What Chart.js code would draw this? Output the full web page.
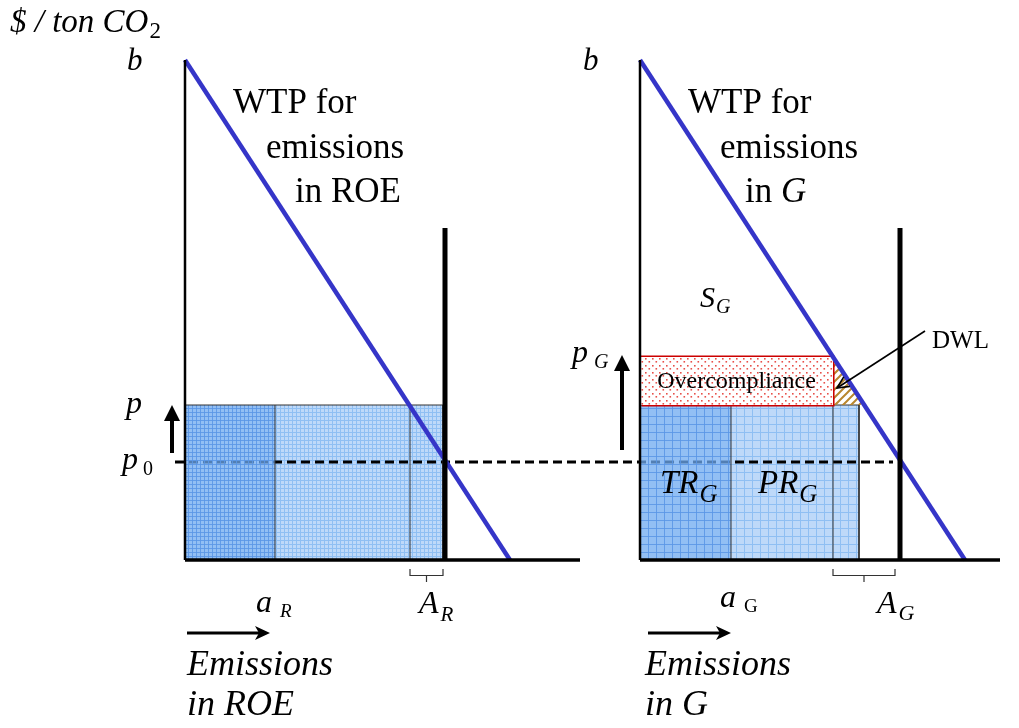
<!DOCTYPE html>
<html>
<head>
<meta charset="utf-8">
<script src="https://cdn.jsdelivr.net/npm/chart.js@4.4.1/dist/chart.umd.min.js"></script>
<style>
  html, body { margin: 0; padding: 0; background: #fff; }
  #diagram { display: block; }
</style>
</head>
<body>
<canvas id="diagram" width="1019" height="728"></canvas>
<script>
// diagram units: price 0..b on y, emissions on x (each panel starts at 0)
const panels = ['ROE', 'G'];
const b = 100;                 // WTP at zero emissions
const p = 31;                  // permit price
const p0 = 19.6;               // initial price
const pG = 40.6;               // price paid in G
const wtpIntercept = [65, 65]; // emissions where WTP hits zero
const cap = [52, 52];          // A_R, A_G
const capTop = [66.4, 66.4];
const tradedRights = [18, 18.2];     // TR block width
const boxRight = [51.6, 43.8];       // right edge of the permit box
const innerLine = [45, 38.6];        // a_R / a_G boundary
const axisEnd = [79, 72];
const braceLeft = [45, 38.6];
const braceRight = [51.6, 51];

const PANEL_OFFSET = [0, 91];

document.addEventListener('DOMContentLoaded', () => {
  const canvas = document.getElementById('diagram');

  const makePattern = (size, draw) => {
    const c = document.createElement('canvas');
    c.width = c.height = size;
    const g = c.getContext('2d');
    draw(g, size);
    return g.createPattern(c, 'repeat');
  };
  const gridPattern = (size, bg, line) => makePattern(size, (g, s) => {
    g.fillStyle = bg; g.fillRect(0, 0, s, s);
    g.fillStyle = line; g.fillRect(0, 0, s, 1); g.fillRect(0, 0, 1, s);
  });
  const lightGrid = [gridPattern(4, '#bed9f9', '#8fbff3'), gridPattern(8, '#bed9f9', '#8fbff3')];
  const darkGrid = [gridPattern(4, 'rgba(110,170,240,0.75)', 'rgba(90,150,230,0.85)'),
                    gridPattern(8, 'rgba(110,170,240,0.75)', 'rgba(90,150,230,0.85)')];
  const dots = makePattern(7, (g) => {
    g.fillStyle = '#fff'; g.fillRect(0, 0, 7, 7);
    g.fillStyle = '#e8504a';
    g.fillRect(1, 1, 1.6, 1.6); g.fillRect(4.5, 4, 1.6, 1.6);
  });
  const hatch = makePattern(8, (g) => {
    g.strokeStyle = '#b8862e'; g.lineWidth = 2;
    g.beginPath();
    g.moveTo(-1, 9); g.lineTo(9, -1);
    g.moveTo(-1, 1); g.lineTo(1, -1);
    g.moveTo(7, 9); g.lineTo(9, 7);
    g.stroke();
  });

  const seg = (points, color, width, order, extra = {}) => ({
    data: points.map(([x, y]) => ({ x, y })),
    borderColor: color,
    borderWidth: width,
    order,
    pointRadius: 0,
    tension: 0,
    fill: false,
    ...extra
  });

  const wtpAt = (i, price) => wtpIntercept[i] * (1 - price / b);

  const datasets = [];
  panels.forEach((name, i) => {
    const o = PANEL_OFFSET[i];
    // permit box
    datasets.push(seg([[o + tradedRights[i], p], [o + boxRight[i], p]], 'rgba(0,0,0,0)', 0, 10,
      { fill: 'origin', backgroundColor: lightGrid[i] }));
    datasets.push(seg([[o, p], [o + tradedRights[i], p]], 'rgba(0,0,0,0)', 0, 8,
      { fill: 'origin', backgroundColor: darkGrid[i] }));
    datasets.push(seg([[o, 0], [o, p], [o + boxRight[i], p], [o + boxRight[i], 0]], '#333', 1, 7));
    datasets.push(seg([[o + tradedRights[i], 0], [o + tradedRights[i], p]], '#333', 1, 7));
    datasets.push(seg([[o + innerLine[i], 0], [o + innerLine[i], p]], '#333', 1, 7));
    // WTP line
    datasets.push(seg([[o, b], [o + wtpIntercept[i], 0]], '#3535c8', 4.5, 5));
    // axes
    datasets.push(seg([[o, b], [o, 0]], '#000', 2.5, 4));
    datasets.push(seg([[o, 0], [o + axisEnd[i], 0]], '#000', 3.5, 4));
    // cap
    datasets.push(seg([[o + cap[i], 0], [o + cap[i], capTop[i]]], '#000', 5, 4));
    // brace under A
    const x0 = o + braceLeft[i], x1 = o + braceRight[i], xm = (x0 + x1) / 2;
    datasets.push(seg([[x0, -1.8], [x0, -3.1], [xm, -3.1], [xm, -4.4], [xm, -3.1], [x1, -3.1], [x1, -1.8]],
      '#333', 1.2, 3));
  });

  // p0 dashed line across both panels
  datasets.push(seg([[-2, p0], [PANEL_OFFSET[1] + 50.6, p0]], '#000', 3, 9, { borderDash: [9, 5] }));

  // overcompliance and DWL in G
  const oG = PANEL_OFFSET[1];
  const overRight = wtpAt(1, pG);
  datasets.push(seg([[oG, pG], [oG + overRight, pG]], 'rgba(0,0,0,0)', 0, 6,
    { fill: { value: p }, backgroundColor: dots }));
  datasets.push(seg([[oG + 0.3, p], [oG + 0.3, pG], [oG + overRight, pG], [oG + overRight, p], [oG + 0.3, p]],
    '#cc0000', 3, 6));
  datasets.push(seg([[oG + overRight, pG], [oG + wtpAt(1, p), p]], 'rgba(0,0,0,0)', 0, 6.5,
    { fill: { value: p }, backgroundColor: hatch }));

  const labelsPlugin = {
    id: 'labels',
    afterDatasetsDraw(chart) {
      const { ctx, scales: { x, y } } = chart;
      const X = (v) => x.getPixelForValue(v);
      const Y = (v) => y.getPixelForValue(v);

      const put = (text, px, py, size, italic, align = 'left') => {
        ctx.font = `${italic ? 'italic ' : ''}${size}px "Liberation Serif"`;
        ctx.textAlign = align;
        ctx.textBaseline = 'alphabetic';
        ctx.fillStyle = '#000';
        ctx.fillText(text, px, py);
        return ctx.measureText(text).width;
      };
      const withSub = (main, sub, vx, vy, size, subSize, gap, drop, subItalic = true) => {
        const w = put(main, X(vx), Y(vy), size, true);
        put(sub, X(vx) + w + gap, Y(vy) + drop, subSize, subItalic);
      };

      ctx.save();
      withSub('$ / ton CO', '2', -35, 105.6, 33, 23, 1, 6, false);
      put('b', X(-11.6), Y(98), 31, true);
      put('b', X(79.6), Y(98), 31, true);

      put('WTP for', X(9.6), Y(89.4), 35, false);
      put('emissions', X(16.2), Y(80.4), 35, false);
      put('in ROE', X(22), Y(71.6), 35, false);
      put('WTP for', X(100.6), Y(89.4), 35, false);
      put('emissions', X(107), Y(80.4), 35, false);
      const w = put('in ', X(112), Y(71.6), 35, false);
      put('G', X(112) + w, Y(71.6), 35, true);

      withSub('S', 'G', 103, 50.6, 30, 20, 1, 6);
      put('p', X(-11.8), Y(29.4), 32, true);
      withSub('p', '0', -12.6, 18.2, 32, 20, 5, 6, false);
      withSub('p', 'G', 77.4, 39.6, 32, 20, 6, 6);

      withSub('a', 'R', 14.2, -10.4, 32, 19, 8, 5);
      withSub('A', 'R', 46.8, -10.6, 32, 21, 2, 8);
      withSub('a', 'G', 107, -9.4, 32, 19, 8, 5, false);
      withSub('A', 'G', 138.4, -10.6, 32, 22, 2, 7);

      withSub('TR', 'G', 95, 13.4, 33, 25, 1, 9);
      withSub('PR', 'G', 114.6, 13.4, 33, 25, 1, 9);

      put('Emissions', X(0.4), Y(-23), 36, true);
      put('in ROE', X(0.4), Y(-31), 36, true);
      put('Emissions', X(92), Y(-23), 36, true);
      put('in G', X(92), Y(-31), 36, true);

      put('DWL', X(149.4), Y(42.4), 25, false);
      ctx.font = '24px "Liberation Serif"';
      ctx.textAlign = 'center';
      ctx.textBaseline = 'middle';
      ctx.fillText('Overcompliance', X(oG + overRight / 2), Y((p + pG) / 2) + 1);

      // arrows
      const shaft = (ax, ay, bx, by, width) => {
        ctx.strokeStyle = '#000'; ctx.lineWidth = width; ctx.lineCap = 'butt';
        ctx.beginPath(); ctx.moveTo(ax, ay); ctx.lineTo(bx, by); ctx.stroke();
      };
      const head = (ax, ay, bx, by, len, half, notch) => {
        const ang = Math.atan2(by - ay, bx - ax);
        ctx.save();
        ctx.translate(bx, by); ctx.rotate(ang);
        ctx.fillStyle = '#000';
        ctx.beginPath();
        ctx.moveTo(0, 0); ctx.lineTo(-len, -half); ctx.lineTo(-len + notch, 0); ctx.lineTo(-len, half);
        ctx.closePath(); ctx.fill();
        ctx.restore();
      };
      // price arrows
      [[-2.6, p0 + 1.8, p], [PANEL_OFFSET[1] - 3.6, p0 + 2.4, pG + 0.4]].forEach(([vx, from, to]) => {
        shaft(X(vx), Y(from), X(vx), Y(to) + 14, 4);
        head(X(vx), Y(from), X(vx), Y(to), 16, 8, 0);
      });
      // emission arrows
      [[0.4, tradedRights[0] - 1], [PANEL_OFFSET[1] + 1.6, PANEL_OFFSET[1] + tradedRights[1]]].forEach(([from, to]) => {
        shaft(X(from), Y(-14.6), X(to) - 8, Y(-14.6), 3);
        head(X(from), Y(-14.6), X(to), Y(-14.6), 15, 7, 4);
      });
      // DWL pointer
      const ax = X(148), ay = Y(45.8), bx = X(130.4), by = Y(34.4);
      shaft(ax, ay, bx, by, 1.6);
      const ang = Math.atan2(by - ay, bx - ax);
      ctx.beginPath();
      ctx.moveTo(bx - 13 * Math.cos(ang - 0.45), by - 13 * Math.sin(ang - 0.45));
      ctx.lineTo(bx, by);
      ctx.lineTo(bx - 13 * Math.cos(ang + 0.45), by - 13 * Math.sin(ang + 0.45));
      ctx.stroke();
      ctx.restore();
    }
  };

  new Chart(canvas, {
    type: 'line',
    data: { datasets },
    options: {
      responsive: false,
      animation: false,
      devicePixelRatio: 1,
      events: [],
      layout: { padding: 0 },
      scales: {
        x: { type: 'linear', display: false, min: -37, max: 166.8 },
        y: { type: 'linear', display: false, min: -33.6, max: 112 }
      },
      plugins: {
        legend: { display: false },
        tooltip: { enabled: false }
      }
    },
    plugins: [labelsPlugin]
  });
});
</script>
</body>
</html>
